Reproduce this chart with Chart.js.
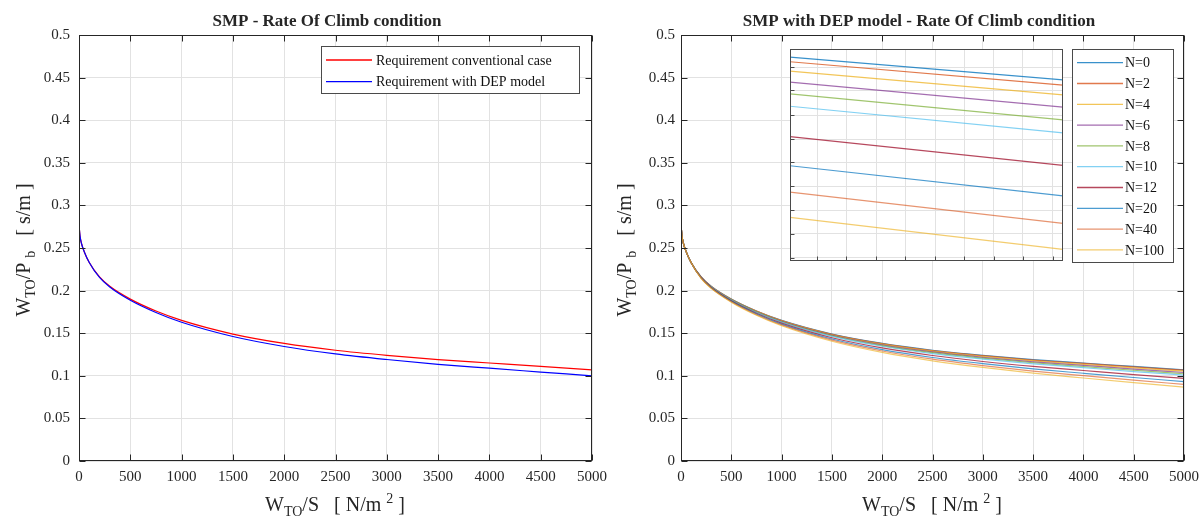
<!DOCTYPE html>
<html><head><meta charset="utf-8">
<script src="https://cdn.jsdelivr.net/npm/chart.js@4.4.1/dist/chart.umd.min.js"></script>
<style>
html,body{margin:0;padding:0;background:#fff;width:1201px;height:522px;overflow:hidden;position:relative;}
.box{position:absolute;}
canvas{display:block;}
</style></head><body>
<div class="box" style="left:0;top:0;width:625px;height:522px"><canvas id="c1" width="625" height="522"></canvas></div>
<div class="box" style="left:596px;top:0;width:640px;height:522px"><canvas id="c2" width="640" height="522"></canvas></div>
<div class="box" style="left:790px;top:49px;width:273px;height:212px"><canvas id="c3" width="273" height="212"></canvas></div>
<script>
// ---------------- DATA ----------------
const WS = [0, 10, 25, 50, 100, 200, 300, 500, 750, 1000, 1500, 2000, 2500, 3000, 3500, 4000, 4500, 5000];
const X_TICKS = [0, 500, 1000, 1500, 2000, 2500, 3000, 3500, 4000, 4500, 5000];
const Y_TICKS = [0, 0.05, 0.1, 0.15, 0.2, 0.25, 0.3, 0.35, 0.4, 0.45, 0.5];

const REQ_CONV = [0.277, 0.264, 0.255, 0.246, 0.233, 0.216, 0.205, 0.190, 0.176, 0.165, 0.149, 0.138, 0.130, 0.124, 0.119, 0.115, 0.111, 0.107];
const REQ_DEP  = [0.277, 0.264, 0.255, 0.246, 0.233, 0.2154, 0.2042, 0.1887, 0.1743, 0.1628, 0.1461, 0.1344, 0.1257, 0.1191, 0.1135, 0.1089, 0.1044, 0.0999];

const N_LABELS = ['N=0', 'N=2', 'N=4', 'N=6', 'N=8', 'N=10', 'N=12', 'N=20', 'N=40', 'N=100'];
const N0   = [0.277, 0.264, 0.255, 0.246, 0.233, 0.216,  0.205,  0.190,  0.176,  0.165,  0.149,  0.138,  0.130,  0.124,  0.119,  0.115,  0.111,  0.107];
const N2   = [0.277, 0.264, 0.255, 0.246, 0.233, 0.216,  0.2049, 0.1899, 0.1759, 0.1648, 0.1487, 0.1377, 0.1296, 0.1236, 0.1185, 0.1145, 0.1104, 0.1066];
const N4   = [0.277, 0.264, 0.255, 0.246, 0.233, 0.2159, 0.2048, 0.1897, 0.1756, 0.1644, 0.1482, 0.1371, 0.1289, 0.1228, 0.1176, 0.1135, 0.1093, 0.1054];
const N6   = [0.277, 0.264, 0.255, 0.246, 0.233, 0.2157, 0.2046, 0.1894, 0.1752, 0.1640, 0.1476, 0.1363, 0.1280, 0.1217, 0.1164, 0.1122, 0.1079, 0.1039];
const N8   = [0.277, 0.264, 0.255, 0.246, 0.233, 0.2156, 0.2044, 0.1891, 0.1748, 0.1635, 0.1470, 0.1355, 0.1271, 0.1207, 0.1153, 0.1109, 0.1065, 0.1024];
const N10  = [0.277, 0.264, 0.255, 0.246, 0.233, 0.2155, 0.2043, 0.1889, 0.1744, 0.1630, 0.1463, 0.1347, 0.1261, 0.1196, 0.1140, 0.1095, 0.1050, 0.1008];
const N12  = [0.277, 0.264, 0.255, 0.246, 0.233, 0.2152, 0.2038, 0.1882, 0.1735, 0.1618, 0.1447, 0.1327, 0.1238, 0.1168, 0.1110, 0.1062, 0.1014, 0.0969];
const N20  = [0.277, 0.264, 0.255, 0.246, 0.233, 0.2149, 0.2034, 0.1875, 0.1726, 0.1607, 0.1432, 0.1308, 0.1215, 0.1143, 0.1081, 0.1030, 0.0980, 0.0932];
const N40  = [0.277, 0.264, 0.255, 0.246, 0.233, 0.2146, 0.2030, 0.1869, 0.1717, 0.1597, 0.1418, 0.1291, 0.1195, 0.1120, 0.1056, 0.1002, 0.0949, 0.0899];
const N100 = [0.277, 0.264, 0.255, 0.246, 0.233, 0.2143, 0.2026, 0.1864, 0.1710, 0.1587, 0.1405, 0.1274, 0.1176, 0.1098, 0.1031, 0.0974, 0.0919, 0.0867];

// inset (zoomed view near the right end)
const INSET_X = [4680, 5000];
const INSET_START = [0.10993, 0.10936, 0.10823, 0.10690, 0.10549, 0.10399, 0.10031, 0.09680, 0.09361, 0.09058];
const INSET_END   = [0.10718, 0.10654, 0.10537, 0.10387, 0.10234, 0.10076, 0.09684, 0.09316, 0.08985, 0.08670];
const INSET_XTICKS = [4712, 4746, 4781, 4815, 4850, 4884, 4919, 4953, 4988];
const INSET_YTICKS = [0.0857, 0.0886, 0.0914, 0.0943, 0.0972, 0.1000, 0.1029, 0.1059, 0.1087];

// ---------------- STYLE ----------------
const SERIF = '"Liberation Serif", "Times New Roman", serif';
const AXC = '#262626';
const GRID = '#e2e2e2';
const N_COLORS = ['rgba(0,114,189,0.78)', 'rgba(217,83,25,0.78)', 'rgba(237,177,32,0.75)', 'rgba(126,47,142,0.7)', 'rgba(119,172,48,0.7)',
                  'rgba(77,190,238,0.7)', 'rgba(162,20,47,0.78)', 'rgba(0,114,189,0.7)', 'rgba(217,83,25,0.62)', 'rgba(237,177,32,0.65)'];
const N_SERIES = [N0, N2, N4, N6, N8, N10, N12, N20, N40, N100];

function pts(xs, ys) { return xs.map((x, i) => ({x: x, y: ys[i]})); }

function drawRich(ctx, parts, cx, cy, rotate) {
  ctx.save();
  ctx.translate(cx, cy);
  if (rotate) ctx.rotate(-Math.PI / 2);
  let total = 0;
  parts.forEach(p => { ctx.font = (p.b ? 'bold ' : '') + p.s + 'px ' + SERIF; p.w = ctx.measureText(p.t).width; total += p.w; });
  let x = -total / 2;
  ctx.textBaseline = 'alphabetic'; ctx.textAlign = 'left'; ctx.fillStyle = AXC;
  parts.forEach(p => { ctx.font = (p.b ? 'bold ' : '') + p.s + 'px ' + SERIF; ctx.fillText(p.t, x, p.dy || 0); x += p.w; });
  ctx.restore();
}

const framePlugin = {
  id: 'frame',
  beforeDraw(chart, args, o) {
    if (o.bg) { const c = chart.ctx; c.save(); c.fillStyle = '#fff'; c.fillRect(0, 0, chart.width, chart.height); c.restore(); }
  },
  afterDraw(chart, args, o) {
    const ctx = chart.ctx, a = chart.chartArea, xs = chart.scales.x, ys = chart.scales.y;
    ctx.save();
    const L = Math.round(a.left) + 0.5, R = Math.round(a.right) - 0.5, T = Math.round(a.top) + 0.5, B = Math.round(a.bottom) - 0.5;
    ctx.strokeStyle = o.color; ctx.lineWidth = 1;
    ctx.beginPath();
    xs.ticks.forEach(t => {
      const px = Math.round(xs.getPixelForValue(t.value)) + 0.5;
      ctx.moveTo(px, B); ctx.lineTo(px, B - o.tick);
      if (o.all) { ctx.moveTo(px, T); ctx.lineTo(px, T + o.tick); }
    });
    ys.ticks.forEach(t => {
      const py = Math.round(ys.getPixelForValue(t.value)) + 0.5;
      ctx.moveTo(L, py); ctx.lineTo(L + o.tick, py);
      if (o.all) { ctx.moveTo(R, py); ctx.lineTo(R - o.tick, py); }
    });
    ctx.stroke();
    ctx.strokeRect(L, T, R - L, B - T);
    ctx.restore();
    if (o.title) drawRich(ctx, [{t: o.title.text, s: 17, b: true}], o.title.x, o.title.y, false);
    if (o.xlabel) drawRich(ctx, [{t: 'W', s: 20}, {t: 'TO', s: 14, dy: 5}, {t: '/S   [ N/m ', s: 20}, {t: '2', s: 14, dy: -8}, {t: ' ]', s: 20}], o.xlabel.x, o.xlabel.y, false);
    if (o.ylabel) drawRich(ctx, [{t: 'W', s: 20}, {t: 'TO', s: 14, dy: 5}, {t: '/P ', s: 20}, {t: 'b', s: 14, dy: 5}, {t: '   [ s/m ]', s: 20}], o.ylabel.x, o.ylabel.y, true);
    if (o.legend) {
      const lg = o.legend;
      ctx.save();
      ctx.fillStyle = '#fff'; ctx.fillRect(lg.x0, lg.y0, lg.x1 - lg.x0, lg.y1 - lg.y0);
      ctx.strokeStyle = '#4a4a4a'; ctx.lineWidth = 1;
      ctx.strokeRect(Math.round(lg.x0) + 0.5, Math.round(lg.y0) + 0.5, Math.round(lg.x1 - lg.x0), Math.round(lg.y1 - lg.y0));
      ctx.font = lg.font + 'px ' + SERIF; ctx.textBaseline = 'middle'; ctx.textAlign = 'left';
      lg.items.forEach((it, i) => {
        const y = lg.first + i * lg.step;
        ctx.strokeStyle = it.color; ctx.lineWidth = 1.3;
        ctx.beginPath(); ctx.moveTo(lg.lx0, y); ctx.lineTo(lg.lx1, y); ctx.stroke();
        ctx.fillStyle = '#111'; ctx.fillText(it.label, lg.tx, y + 1);
      });
      ctx.restore();
    }
  }
};

function mainScales(yWidth, yPad) {
  return {
    x: {
      type: 'linear', min: 0, max: 5000,
      afterBuildTicks: s => { s.ticks = X_TICKS.map(v => ({value: v})); },
      afterFit: s => { s.height = 61; },
      grid: {color: GRID, drawTicks: false, lineWidth: 1},
      border: {display: false},
      ticks: {color: AXC, font: {family: SERIF, size: 15}, padding: 7, maxRotation: 0, autoSkip: false, callback: v => String(v)}
    },
    y: {
      type: 'linear', min: 0, max: 0.5,
      afterBuildTicks: s => { s.ticks = Y_TICKS.map(v => ({value: v})); },
      afterFit: s => { s.width = yWidth; },
      grid: {color: GRID, drawTicks: false, lineWidth: 1},
      border: {display: false},
      ticks: {color: AXC, font: {family: SERIF, size: 15}, padding: yPad, autoSkip: false, callback: v => String(Number(v.toFixed(2)))}
    }
  };
}

const lineDefaults = {pointRadius: 0, borderWidth: 1.2, fill: false, cubicInterpolationMode: 'monotone'};

// ---------------- LEFT CHART ----------------
new Chart(document.getElementById('c1'), {
  type: 'line',
  data: {
    datasets: [
      Object.assign({label: 'Requirement conventional case', data: pts(WS, REQ_CONV), borderColor: '#ff0000', order: 2}, lineDefaults),
      Object.assign({label: 'Requirement with DEP model', data: pts(WS, REQ_DEP), borderColor: '#0000ff', order: 1}, lineDefaults)
    ]
  },
  options: {
    responsive: false, animation: false, events: [],
    layout: {autoPadding: false, padding: {left: 0, right: 33, top: 35, bottom: 0}},
    scales: mainScales(79, 9),
    plugins: {
      legend: {display: false}, tooltip: {enabled: false},
      frame: {
        color: AXC, tick: 6, all: true,
        title: {text: 'SMP - Rate Of Climb condition', x: 327, y: 26},
        xlabel: {x: 335, y: 511},
        ylabel: {x: 30, y: 250},
        legend: {x0: 321, y0: 46, x1: 579, y1: 93, lx0: 326, lx1: 372, tx: 376, first: 60, step: 21.7, font: 14,
          items: [{label: 'Requirement conventional case', color: '#ff0000'}, {label: 'Requirement with DEP model', color: '#0000ff'}]}
      }
    }
  },
  plugins: [framePlugin]
});

// ---------------- RIGHT CHART ----------------
new Chart(document.getElementById('c2'), {
  type: 'line',
  data: {
    datasets: N_SERIES.map((arr, i) => Object.assign({label: N_LABELS[i], data: pts(WS, arr), borderColor: N_COLORS[i], order: 10 - i}, lineDefaults))
  },
  options: {
    responsive: false, animation: false, events: [],
    layout: {autoPadding: false, padding: {left: 0, right: 52, top: 35, bottom: 0}},
    scales: mainScales(85, 6),
    plugins: {
      legend: {display: false}, tooltip: {enabled: false},
      frame: {
        color: AXC, tick: 6, all: true,
        title: {text: 'SMP with DEP model - Rate Of Climb condition', x: 919 - 596, y: 26},
        xlabel: {x: 932 - 596, y: 511},
        ylabel: {x: 631 - 596, y: 250},
        legend: {x0: 1072 - 596, y0: 49, x1: 1173 - 596, y1: 262, lx0: 1077 - 596, lx1: 1123 - 596, tx: 1125 - 596, first: 62.7, step: 20.8, font: 14,
          items: N_LABELS.map((l, i) => ({label: l, color: N_COLORS[i]}))}
      }
    }
  },
  plugins: [framePlugin]
});

// ---------------- INSET ----------------
new Chart(document.getElementById('c3'), {
  type: 'line',
  data: {
    datasets: N_LABELS.map((l, i) => Object.assign({label: l, data: pts(INSET_X, [INSET_START[i], INSET_END[i]]), borderColor: N_COLORS[i], order: 10 - i}, lineDefaults, {cubicInterpolationMode: 'default', tension: 0}))
  },
  options: {
    responsive: false, animation: false, events: [],
    layout: {autoPadding: false, padding: 0},
    scales: {
      x: {type: 'linear', min: 4680, max: 5000,
        afterBuildTicks: s => { s.ticks = INSET_XTICKS.map(v => ({value: v})); },
        afterFit: s => { s.height = 0; },
        grid: {color: GRID, drawTicks: false}, border: {display: false}, ticks: {display: false}},
      y: {type: 'linear', min: 0.0853, max: 0.1109,
        afterBuildTicks: s => { s.ticks = INSET_YTICKS.map(v => ({value: v})); },
        afterFit: s => { s.width = 0; },
        grid: {color: GRID, drawTicks: false}, border: {display: false}, ticks: {display: false}}
    },
    plugins: {
      legend: {display: false}, tooltip: {enabled: false},
      frame: {bg: true, color: '#4a4a4a', tick: 4, all: false}
    }
  },
  plugins: [framePlugin]
});
</script>
</body></html>
